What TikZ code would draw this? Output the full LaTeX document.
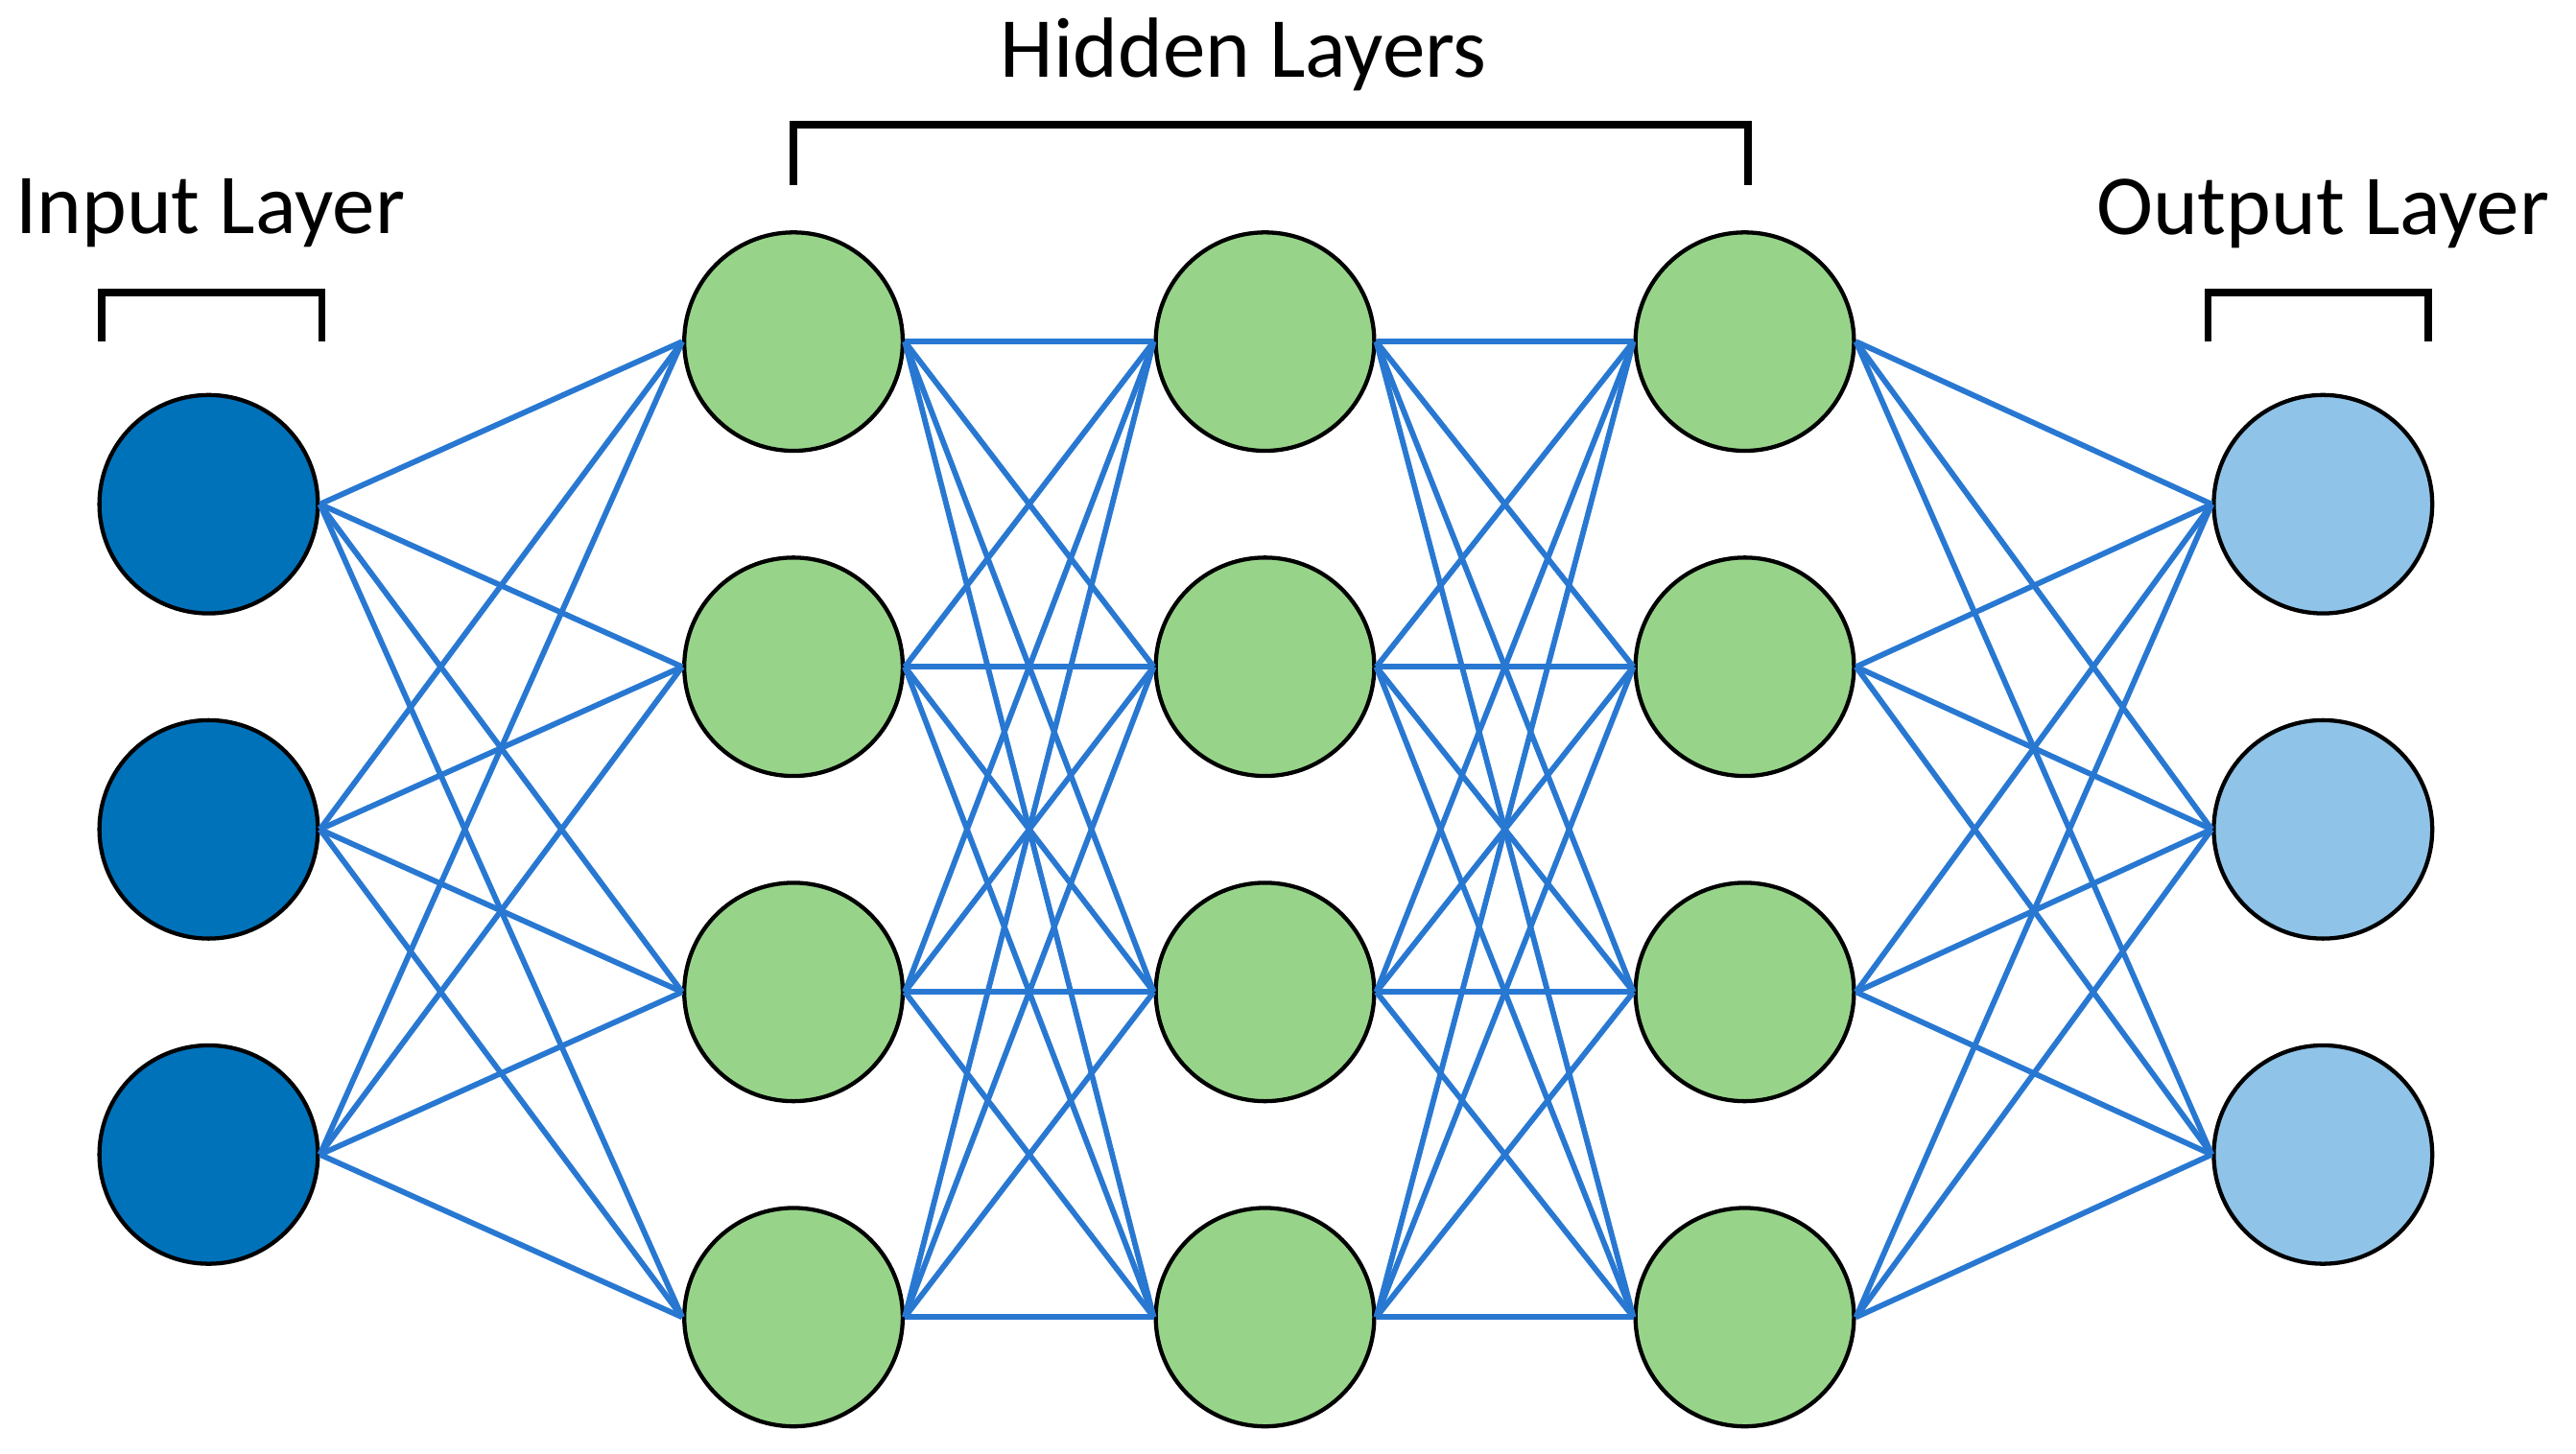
\documentclass[tikz,border=0pt]{standalone}
\usepackage{fontspec}
\setmainfont{Carlito}
\definecolor{inp}{RGB}{0,114,186}
\definecolor{hid}{RGB}{151,212,138}
\definecolor{outc}{RGB}{143,195,232}
\definecolor{edge}{RGB}{40,120,210}
\begin{document}
\begin{tikzpicture}[x=1pt,y=-1pt,
  neuron/.style={circle,draw=black,line width=2.5pt,minimum size=133pt,inner sep=0pt},
  conn/.style={draw=edge,line width=3.4pt},
  brk/.style={draw=black,line width=4.5pt},
  lbl/.style={font=\fontsize{52}{60}\selectfont}]
\useasboundingbox (0,0) rectangle (1568,885);
\foreach \i/\y in {1/307,2/505,3/703}{
  \node[neuron,fill=inp] (i\i) at (127,\y) {};
  \node[neuron,fill=outc] (o\i) at (1414,\y) {};}
\foreach \i/\y in {1/208,2/406,3/604,4/802}{
  \node[neuron,fill=hid] (a\i) at (483,\y) {};
  \node[neuron,fill=hid] (b\i) at (770,\y) {};
  \node[neuron,fill=hid] (c\i) at (1062,\y) {};}
\foreach \s in {1,2,3}\foreach \t in {1,2,3,4}{
  \draw[conn] (i\s.east) -- (a\t.west);
  \draw[conn] (c\t.east) -- (o\s.west);}
\foreach \s in {1,2,3,4}\foreach \t in {1,2,3,4}{
  \draw[conn] (a\s.east) -- (b\t.west);
  \draw[conn] (b\s.east) -- (c\t.west);}
\coordinate (p1) at (62,208); \coordinate (p2) at (62,178);
\coordinate (p3) at (196,178); \coordinate (p4) at (196,208);
\draw[brk] (p1) -- (p2) -- (p3) -- (p4);
\coordinate (h1) at (483,113); \coordinate (h2) at (483,76);
\coordinate (h3) at (1064,76); \coordinate (h4) at (1064,113);
\draw[brk] (h1) -- (h2) -- (h3) -- (h4);
\coordinate (q1) at (1344,208); \coordinate (q2) at (1344,178);
\coordinate (q3) at (1478,178); \coordinate (q4) at (1478,208);
\draw[brk] (q1) -- (q2) -- (q3) -- (q4);
\node[lbl] (li) at (128,130) {Input Layer};
\node[lbl] (lh) at (757,33) {Hidden Layers};
\node[lbl] (lo) at (1414,130) {Output Layer};
\end{tikzpicture}
\end{document}
